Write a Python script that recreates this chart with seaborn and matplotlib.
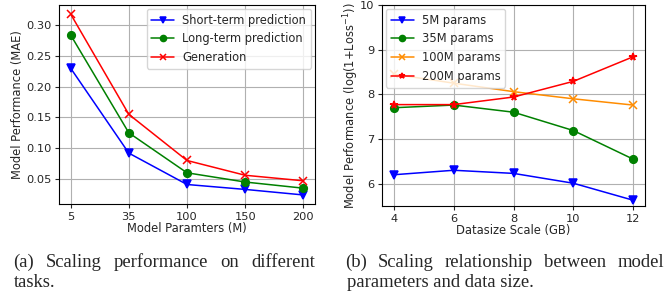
import numpy as np
import pandas as pd
import matplotlib
matplotlib.use("Agg")
import matplotlib.pyplot as plt
import seaborn as sns

# ---- data ----
model_params = ["5", "35", "100", "150", "200"]
short_term = [0.230, 0.092, 0.041, 0.033, 0.024]
long_term = [0.284, 0.125, 0.060, 0.045, 0.035]
generation = [0.318, 0.155, 0.080, 0.056, 0.047]

datasize = [4, 6, 8, 10, 12]
p5m = [6.20, 6.30, 6.23, 6.01, 5.63]
p35m = [7.70, 7.76, 7.60, 7.19, 6.55]
p100m = [8.45, 8.25, 8.06, 7.90, 7.76]
p200m = [7.77, 7.77, 7.94, 8.29, 8.84]

sns.set_style("ticks")
plt.rcParams['font.family'] = ['DejaVu Sans']

TICK = 8.2
LAB = 8.3
LEG = 8.3

fig = plt.figure(figsize=(6.67, 2.92), dpi=100)
W, H = 667, 292
ax1 = fig.add_axes([59 / W, 1 - 204 / H, (315 - 59) / W, (204 - 5) / H])
ax2 = fig.add_axes([382 / W, 1 - 206 / H, (645 - 382) / W, (206 - 5) / H])

# left panel
pos = list(range(len(model_params)))
left_series = [("Short-term prediction", short_term, "blue", "v"),
               ("Long-term prediction", long_term, "green", "o"),
               ("Generation", generation, "red", "x")]
for name, vals, col, mk in left_series:
    sns.lineplot(x=pos, y=vals, color=col, marker=mk, label=name,
                 markersize=5.5, linewidth=1.1, markeredgewidth=1.1,
                 markeredgecolor=col, ax=ax1)
ax1.set_xticks(pos)
ax1.set_xticklabels(model_params)
ax1.set_xlabel("Model Paramters (M)", fontsize=LAB, labelpad=0.5)
ax1.set_ylabel("Model Performance (MAE)", fontsize=LAB, labelpad=1.5)
ax1.set_yticks([0.05, 0.10, 0.15, 0.20, 0.25, 0.30])
ax1.grid(True, color="#b0b0b0", linewidth=0.8)
ax1.tick_params(labelsize=TICK, length=3, pad=2.5)
ax1.legend(loc="upper right", fontsize=LEG, framealpha=0.8, markerscale=0.8,
           borderaxespad=0.35, handletextpad=0.7)

# right panel
right_series = [("5M params", p5m, "blue", "v"),
                ("35M params", p35m, "green", "o"),
                ("100M params", p100m, "darkorange", "x"),
                ("200M params", p200m, "red", "*")]
for name, vals, col, mk in right_series:
    sns.lineplot(x=datasize, y=vals, color=col, marker=mk, label=name,
                 markersize=5.5, linewidth=1.1, markeredgewidth=1.1,
                 markeredgecolor=col, ax=ax2)
ax2.set_xticks(datasize)
ax2.set_ylim(5.5, 10)
ax2.set_yticks([6, 7, 8, 9, 10])
ax2.set_xlabel("Datasize Scale (GB)", fontsize=LAB, labelpad=0.5)
ax2.set_ylabel("Model Performance (log(1+Loss$^{-1}$))", fontsize=LAB, labelpad=-0.5)
ax2.grid(True, color="#b0b0b0", linewidth=0.8)
ax2.tick_params(labelsize=TICK, length=3, pad=2.5)
ax2.legend(loc="upper left", fontsize=LEG, framealpha=0.8, markerscale=0.8,
           borderaxespad=0.35, handletextpad=0.7)

for ax in (ax1, ax2):
    for s in ax.spines.values():
        s.set_visible(True)
        s.set_color("black")
        s.set_linewidth(0.8)

# captions (justified first lines)
serif = ['Liberation Serif', 'DejaVu Serif']
CAP = 13.4
fig.canvas.draw()
renderer = fig.canvas.get_renderer()


def justified(words, x0, x1, ybase):
    texts = [fig.text(0, 1 - ybase / H, w, family=serif, fontsize=CAP, va="baseline") for w in words]
    widths = [t.get_window_extent(renderer).width for t in texts]
    gap = (x1 - x0 - sum(widths)) / (len(words) - 1)
    x = x0
    for t, w in zip(texts, widths):
        t.set_x(x / W)
        x += w + gap


justified(["(a)", "Scaling", "performance", "on", "different"], 13, 315, 267)
fig.text(14 / W, 1 - 287 / H, "tasks.", family=serif, fontsize=CAP, va="baseline")
justified(["(b)", "Scaling", "relationship", "between", "model"], 345, 664, 267)
fig.text(347 / W, 1 - 287 / H, "parameters and data size.", family=serif, fontsize=CAP, va="baseline")

fig.savefig("out.png", dpi=100)
